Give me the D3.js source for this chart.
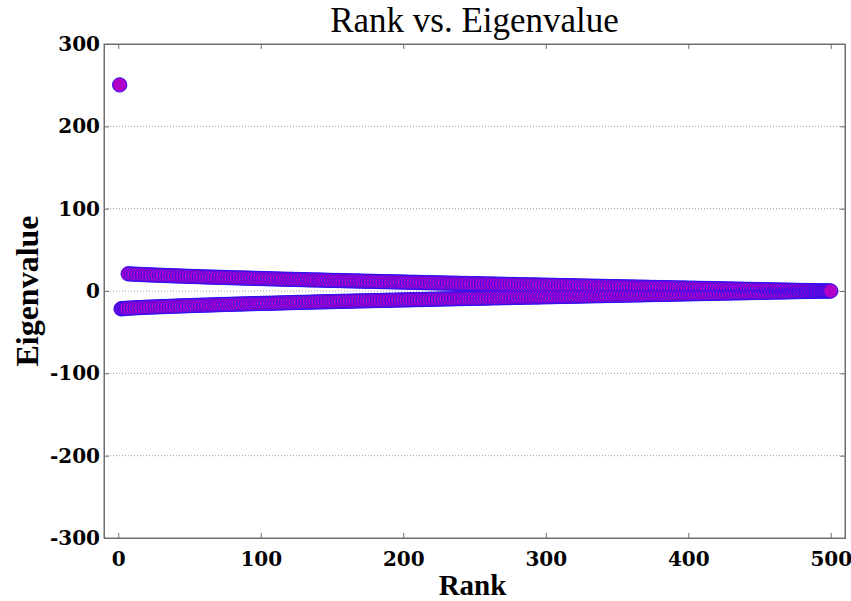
<!DOCTYPE html>
<html>
<head>
<meta charset="utf-8">
<script src="https://cdn.jsdelivr.net/npm/d3@7"></script>
<style>
  body { margin: 0; background: #fff; }
  svg { display: block; }
</style>
</head>
<body>
<svg id="chart" width="851" height="601"></svg>
<script>
// eigenvalues sorted by magnitude, rank 1 .. 500
const eigenvalues = [
  250.3, -21.6, -21.4, -21.3, -21.2, -21.0, 20.9, -20.8, 20.7, -20.6,
  20.5, -20.4, 20.3, -20.2, 20.2, -20.1, 20.0, -19.9, 19.8, -19.7,
  19.7, -19.6, 19.5, -19.5, 19.4, -19.3, 19.2, -19.2, 19.1, -19.0,
  19.0, -18.9, 18.8, -18.8, 18.7, -18.6, 18.6, -18.5, 18.4, -18.4,
  18.3, -18.2, 18.2, -18.1, 18.1, -18.0, 17.9, -17.9, 17.8, -17.8,
  17.7, -17.6, 17.6, -17.5, 17.5, -17.4, 17.4, -17.3, 17.2, -17.2,
  17.1, -17.1, 17.0, -17.0, 16.9, -16.9, 16.8, -16.8, 16.7, -16.6,
  16.6, -16.5, 16.5, -16.4, 16.4, -16.3, 16.3, -16.2, 16.2, -16.1,
  16.1, -16.0, 16.0, -15.9, 15.9, -15.8, 15.8, -15.7, 15.7, -15.6,
  15.6, -15.5, 15.5, -15.4, 15.4, -15.3, 15.3, -15.2, 15.2, -15.1,
  15.1, -15.0, 15.0, -14.9, 14.9, -14.9, 14.8, -14.8, 14.7, -14.7,
  14.6, -14.6, 14.5, -14.5, 14.4, -14.4, 14.3, -14.3, 14.2, -14.2,
  14.2, -14.1, 14.1, -14.0, 14.0, -13.9, 13.9, -13.8, 13.8, -13.8,
  13.7, -13.7, 13.6, -13.6, 13.5, -13.5, 13.4, -13.4, 13.4, -13.3,
  13.3, -13.2, 13.2, -13.1, 13.1, -13.1, 13.0, -13.0, 12.9, -12.9,
  12.8, -12.8, 12.8, -12.7, 12.7, -12.6, 12.6, -12.5, 12.5, -12.5,
  12.4, -12.4, 12.3, -12.3, 12.3, -12.2, 12.2, -12.1, 12.1, -12.0,
  12.0, -12.0, 11.9, -11.9, 11.8, -11.8, 11.8, -11.7, 11.7, -11.6,
  11.6, -11.6, 11.5, -11.5, 11.4, -11.4, 11.4, -11.3, 11.3, -11.2,
  11.2, -11.2, 11.1, -11.1, 11.0, -11.0, 11.0, -10.9, 10.9, -10.8,
  10.8, -10.8, 10.7, -10.7, 10.6, -10.6, 10.6, -10.5, 10.5, -10.4,
  10.4, -10.4, 10.3, -10.3, 10.2, -10.2, 10.2, -10.1, 10.1, -10.0,
  10.0, -10.0, 9.9, -9.9, 9.8, -9.8, 9.8, -9.7, 9.7, -9.6,
  9.6, -9.6, 9.5, -9.5, 9.5, -9.4, 9.4, -9.3, 9.3, -9.3,
  9.2, -9.2, 9.2, -9.1, 9.1, -9.0, 9.0, -9.0, 8.9, -8.9,
  8.8, -8.8, 8.8, -8.7, 8.7, -8.7, 8.6, -8.6, 8.5, -8.5,
  8.5, -8.4, 8.4, -8.3, 8.3, -8.3, 8.2, -8.2, 8.2, -8.1,
  8.1, -8.1, 8.0, -8.0, 7.9, -7.9, 7.9, -7.8, 7.8, -7.8,
  7.7, -7.7, 7.7, -7.6, 7.6, -7.5, 7.5, -7.5, 7.4, -7.4,
  7.4, -7.3, 7.3, -7.3, 7.2, -7.2, 7.1, -7.1, 7.1, -7.0,
  7.0, -7.0, 6.9, -6.9, 6.9, -6.8, 6.8, -6.7, 6.7, -6.7,
  6.6, -6.6, 6.6, -6.5, 6.5, -6.5, 6.4, -6.4, 6.3, -6.3,
  6.3, -6.2, 6.2, -6.2, 6.1, -6.1, 6.0, -6.0, 6.0, -5.9,
  5.9, -5.9, 5.8, -5.8, 5.8, -5.7, 5.7, -5.7, 5.6, -5.6,
  5.5, -5.5, 5.5, -5.4, 5.4, -5.4, 5.3, -5.3, 5.3, -5.2,
  5.2, -5.2, 5.1, -5.1, 5.0, -5.0, 5.0, -4.9, 4.9, -4.9,
  4.8, -4.8, 4.8, -4.7, 4.7, -4.7, 4.6, -4.6, 4.6, -4.5,
  4.5, -4.4, 4.4, -4.4, 4.3, -4.3, 4.3, -4.2, 4.2, -4.2,
  4.1, -4.1, 4.1, -4.0, 4.0, -4.0, 3.9, -3.9, 3.8, -3.8,
  3.8, -3.7, 3.7, -3.7, 3.6, -3.6, 3.6, -3.5, 3.5, -3.5,
  3.4, -3.4, 3.4, -3.3, 3.3, -3.3, 3.2, -3.2, 3.2, -3.1,
  3.1, -3.0, 3.0, -3.0, 2.9, -2.9, 2.9, -2.8, 2.8, -2.8,
  2.7, -2.7, 2.7, -2.6, 2.6, -2.6, 2.5, -2.5, 2.5, -2.4,
  2.4, -2.3, 2.3, -2.3, 2.2, -2.2, 2.2, -2.1, 2.1, -2.1,
  2.0, -2.0, 2.0, -1.9, 1.9, -1.9, 1.8, -1.8, 1.8, -1.7,
  1.7, -1.6, 1.6, -1.6, 1.5, -1.5, 1.5, -1.4, 1.4, -1.4,
  1.3, -1.3, 1.3, -1.2, 1.2, -1.2, 1.1, -1.1, 1.1, -1.0,
  1.0, -0.9, 0.9, -0.9, 0.8, -0.8, 0.8, -0.7, 0.7, -0.7,
  0.6, -0.6, 0.6, -0.5, 0.5, -0.5, 0.4, -0.4, 0.4, -0.3,
  0.3, -0.3, 0.2, -0.2, 0.2, -0.1, 0.1, -0.1, 0.0, 0.0
];
const xTicks = [0, 100, 200, 300, 400, 500];
const yTicks = [-300, -200, -100, 0, 100, 200, 300];
const xDomain = [-10, 510];
const yDomain = [-300, 300];

const svg = d3.select("#chart");
const plotLeft = 104, plotRight = 845, plotTop = 44, plotBottom = 538;

const x = d3.scaleLinear().domain(xDomain).range([plotLeft, plotRight]);
const y = d3.scaleLinear().domain(yDomain).range([plotBottom, plotTop]);

svg.append("rect").attr("width", 851).attr("height", 601).attr("fill", "#fff");

// dotted horizontal grid
svg.append("g")
    .selectAll("line")
    .data(yTicks.filter(d => d > yDomain[0] && d < yDomain[1]))
    .enter().append("line")
    .attr("x1", plotLeft).attr("x2", plotRight)
    .attr("y1", d => y(d)).attr("y2", d => y(d))
    .attr("stroke", "#9a9a9a")
    .attr("stroke-width", 1)
    .attr("stroke-dasharray", "1,2");

const tickFont = "bold 20px 'DejaVu Serif', serif";

const xAxis = svg.append("g")
    .attr("transform", `translate(0,${plotBottom})`)
    .call(d3.axisBottom(x).tickValues(xTicks).tickSize(-5).tickPadding(14).tickFormat(d => String(d)));
const yAxis = svg.append("g")
    .attr("transform", `translate(${plotLeft},0)`)
    .call(d3.axisLeft(y).tickValues(yTicks).tickSize(-5).tickPadding(4).tickFormat(d => String(d)));
svg.append("g")
    .attr("transform", `translate(0,${plotTop})`)
    .call(d3.axisTop(x).tickValues(xTicks).tickSize(-5).tickFormat(""));
svg.append("g")
    .attr("transform", `translate(${plotRight},0)`)
    .call(d3.axisRight(y).tickValues(yTicks).tickSize(-5).tickFormat(""));

svg.selectAll(".domain, .tick line").attr("stroke", "#6e6e6e");
[xAxis, yAxis].forEach(a => a.selectAll("text")
    .style("font", tickFont)
    .attr("fill", "#000"));

// box
svg.append("rect")
    .attr("x", plotLeft).attr("y", plotTop)
    .attr("width", plotRight - plotLeft).attr("height", plotBottom - plotTop)
    .attr("fill", "none")
    .attr("stroke", "#6e6e6e");

// eigenvalue markers
const points = eigenvalues.map((v, i) => ({rank: i + 1, value: v}));
svg.append("g")
    .selectAll("circle")
    .data(points)
    .enter().append("circle")
    .attr("cx", d => x(d.rank))
    .attr("cy", d => y(d.value))
    .attr("r", 7.2)
    .attr("fill", "#b000c8")
    .attr("stroke", "#2a10f0")
    .attr("stroke-width", 1);

// titles
svg.append("text")
    .attr("x", (plotLeft + plotRight) / 2)
    .attr("y", 32)
    .attr("text-anchor", "middle")
    .style("font", "35px 'Liberation Serif', serif")
    .text("Rank vs. Eigenvalue");

svg.append("text")
    .attr("x", (plotLeft + plotRight) / 2 - 2)
    .attr("y", 595)
    .attr("text-anchor", "middle")
    .style("font", "bold 29px 'Liberation Serif', serif")
    .text("Rank");

svg.append("text")
    .attr("transform", `translate(38,${(plotTop + plotBottom) / 2}) rotate(-90)`)
    .attr("text-anchor", "middle")
    .style("font", "bold 32px 'Liberation Serif', serif")
    .text("Eigenvalue");
</script>
</body>
</html>
